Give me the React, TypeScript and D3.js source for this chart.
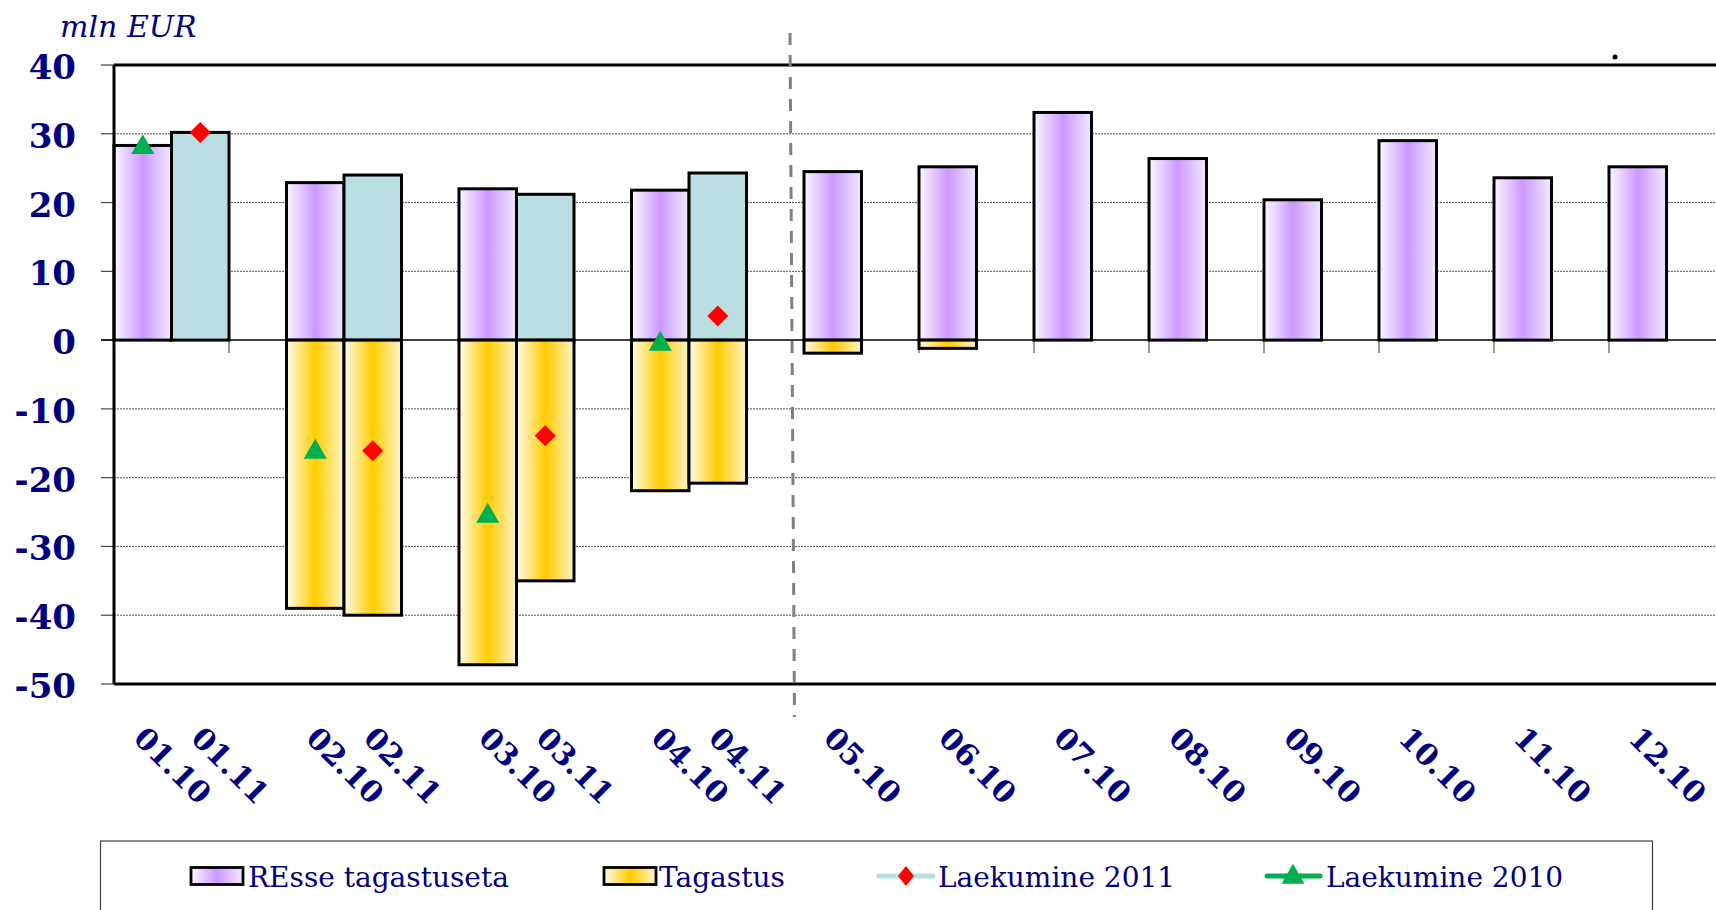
import React from "react";
import * as d3 from "d3";

// ---- data ----
const periods = ["01", "02", "03", "04", "05", "06", "07", "08", "09", "10", "11", "12"];
const re2010 = [28.3, 22.9, 22.0, 21.8, 24.5, 25.2, 33.1, 26.4, 20.4, 29.0, 23.6, 25.2];
const tag2010 = [null, -39.0, -47.2, -21.9, -1.9, -1.2, null, null, null, null, null, null];
const re2011 = [30.2, 24.0, 21.2, 24.3];
const tag2011 = [null, -40.0, -35.0, -20.8];
const laek2010 = [28.3, -16.0, -25.3, -0.3];
const laek2011 = [30.2, -16.1, -13.9, 3.5];
const yTicks = [40, 30, 20, 10, 0, -10, -20, -30, -40, -50];
const legendItems = ["REsse tagastuseta", "Tagastus", "Laekumine 2011", "Laekumine 2010"];
const unitLabel = "mln EUR";

const NAVY = "#000080";
const FONT = "'DejaVu Serif', serif";

type Bar = { key: string; value: number; kind: "re10" | "re11" | "tag" };

export default function App() {
  const W = 1716, H = 910;
  const left = 114, top = 65, bottom = 684;
  const slotW = 57.5;

  // slots: for each period, 2010 bar, optional 2011 bar, then a gap
  const slots: string[] = [];
  periods.forEach((p, i) => {
    slots.push(`${p}.10`);
    if (i < re2011.length) slots.push(`${p}.11`);
    slots.push(`gap${p}`);
  });

  const x = d3.scaleBand<string>().domain(slots).range([left, left + slots.length * slotW]).padding(0);
  const bw = x.bandwidth();
  const y = d3.scaleLinear().domain([-50, 40]).range([bottom, top]);
  const right = left + slots.length * bw;

  const bars: Bar[] = [];
  periods.forEach((p, i) => {
    bars.push({ key: `${p}.10`, value: re2010[i], kind: "re10" });
    if (tag2010[i] != null) bars.push({ key: `${p}.10`, value: tag2010[i] as number, kind: "tag" });
    if (i < re2011.length) {
      bars.push({ key: `${p}.11`, value: re2011[i], kind: "re11" });
      if (tag2011[i] != null) bars.push({ key: `${p}.11`, value: tag2011[i] as number, kind: "tag" });
    }
  });

  const fillFor = (k: Bar["kind"]) => (k === "re10" ? "url(#gPurple)" : k === "re11" ? "#B9DFE2" : "url(#gYellow)");

  const catTicks = d3.range(0, slots.length + 1, 2).map((k) => left + k * bw);
  const labelKeys = slots.filter((s) => !s.startsWith("gap"));

  const tri = d3.symbol().type(d3.symbolTriangle).size(230)();
  const dia = (s: number) => `M0,${-s}L${s},0L0,${s}L${-s},0Z`;

  const dashX = (x("05.10") as number) - 14;

  // legend
  const legY = 876;

  return (
    <svg width={W} height={H} style={{ position: "absolute", left: 0, top: 0, background: "#fff" }}>
      <defs>
        <linearGradient id="gPurple" x1="0" x2="1" y1="0" y2="0">
          <stop offset="0" stopColor="#FBF8FF" />
          <stop offset="0.5" stopColor="#CC99FF" />
          <stop offset="1" stopColor="#F2EAFF" />
        </linearGradient>
        <linearGradient id="gYellow" x1="0" x2="1" y1="0" y2="0">
          <stop offset="0" stopColor="#FFFCEB" />
          <stop offset="0.5" stopColor="#FFCC00" />
          <stop offset="1" stopColor="#FFF4C8" />
        </linearGradient>
      </defs>

      {/* unit label */}
      <text x={60} y={37} fontFamily={FONT} fontStyle="italic" fontSize={30} fill={NAVY}>
        {unitLabel}
      </text>

      {/* gridlines */}
      {yTicks.filter((v) => v !== 0 && v !== 40 && v !== -50).map((v) => (
        <line key={`g${v}`} x1={left} x2={right} y1={y(v)} y2={y(v)} stroke="#555" strokeWidth={1} strokeDasharray="2,1" />
      ))}
      {/* y ticks + labels */}
      {yTicks.map((v) => (
        <g key={`t${v}`}>
          <line x1={101} x2={left} y1={y(v)} y2={y(v)} stroke="#444" strokeWidth={1.2} />
          <text x={76} y={y(v) + 14} textAnchor="end" fontFamily={FONT} fontWeight="bold" fontSize={34} fill={NAVY}>
            {v}
          </text>
        </g>
      ))}

      {/* category ticks on zero line */}
      {catTicks.map((cx, i) => (
        <line key={`c${i}`} x1={cx} x2={cx} y1={y(0)} y2={y(0) + 13} stroke="#555" strokeWidth={1.2} />
      ))}

      {/* bars */}
      {bars.map((b, i) => {
        const y0 = y(Math.max(0, b.value));
        const y1 = y(Math.min(0, b.value));
        return (
          <rect key={`b${i}`} x={x(b.key)} y={y0} width={bw} height={y1 - y0}
            fill={fillFor(b.kind)} stroke="#000" strokeWidth={3} />
        );
      })}

      {/* zero line */}
      <line x1={101} x2={right} y1={y(0)} y2={y(0)} stroke="#000" strokeWidth={1.5} />

      {/* plot frame: top, left, bottom */}
      <line x1={left} x2={right} y1={top} y2={top} stroke="#000" strokeWidth={3} />
      <line x1={left} x2={right} y1={bottom} y2={bottom} stroke="#000" strokeWidth={3} />
      <line x1={left} x2={left} y1={top} y2={bottom} stroke="#000" strokeWidth={3} />

      {/* markers */}
      {laek2010.map((v, i) => (
        <path key={`m10${i}`} d={tri} fill="#00B050"
          transform={`translate(${(x(`${periods[i]}.10`) as number) + bw / 2},${y(v) + 2})`} />
      ))}
      {laek2011.map((v, i) => (
        <path key={`m11${i}`} d={dia(10.5)} fill="#FF0000"
          transform={`translate(${(x(`${periods[i]}.11`) as number) + bw / 2},${y(v)})`} />
      ))}

      {/* dashed separator */}
      <line x1={dashX} x2={dashX + 4.5} y1={33} y2={717} stroke="#808080" strokeWidth={3} strokeDasharray="12,10" />

      {/* stray dot */}
      <circle cx={1615} cy={57} r={2.5} fill="#000" />

      {/* x labels */}
      {labelKeys.map((k) => (
        <text key={`l${k}`} transform={`translate(${(x(k) as number) + bw / 2 - 3},732) rotate(45)`}
          dy="0.36em" fontFamily={FONT} fontWeight="bold" fontSize={30} fill={NAVY}>
          {k}
        </text>
      ))}

      {/* legend */}
      <rect x={100.5} y={841} width={1552} height={80} fill="#fff" stroke="#404040" strokeWidth={1.2} />
      <rect x={191} y={867.5} width={52} height={17} fill="url(#gPurple)" stroke="#000" strokeWidth={2.8} />
      <text x={248} y={887} fontFamily={FONT} fontSize={28} fill={NAVY}>{legendItems[0]}</text>
      <rect x={604} y={867.5} width={52} height={17} fill="url(#gYellow)" stroke="#000" strokeWidth={2.8} />
      <text x={659} y={887} fontFamily={FONT} fontSize={28} fill={NAVY}>{legendItems[1]}</text>
      <line x1={879} x2={933} y1={legY} y2={legY} stroke="#B9DFE2" strokeWidth={5} strokeLinecap="round" />
      <path d={`M0,-10L8,0L0,10L-8,0Z`} fill="#FF0000" transform={`translate(906,${legY})`} />
      <text x={938} y={887} fontFamily={FONT} fontSize={28} fill={NAVY}>{legendItems[2]}</text>
      <line x1={1267} x2={1320} y1={legY} y2={legY} stroke="#00B050" strokeWidth={5} strokeLinecap="round" />
      <path d={tri} fill="#00B050" transform={`translate(1293,${legY + 1})`} />
      <text x={1326} y={887} fontFamily={FONT} fontSize={28} fill={NAVY}>{legendItems[3]}</text>
    </svg>
  );
}
